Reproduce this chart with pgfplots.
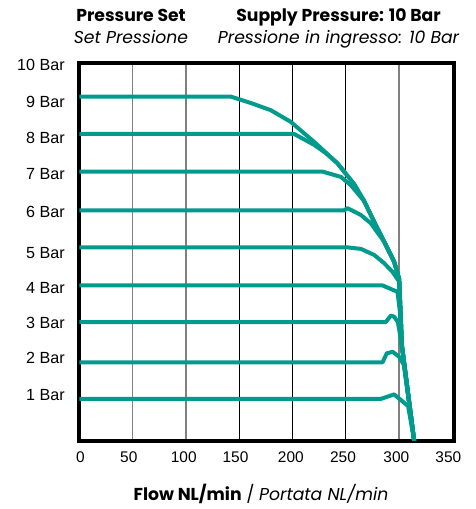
\documentclass[border=0pt]{standalone}
\usepackage{fontspec}
\setmainfont{Liberation Sans}
\newfontfamily\hfont{Poppins}
\usepackage{pgfplots}
\pgfplotsset{compat=1.18}
\definecolor{teal1}{RGB}{0,155,140}
\tikzset{curve/.style={teal1, line width=4bp, line join=round, line cap=butt, mark=none}}
\begin{document}
\begin{tikzpicture}
\path[use as bounding box] (-79.5bp,-68.5bp) rectangle (396.5bp,440.5bp);
\begin{axis}[
  at={(0,0)}, anchor=south west,
  scale only axis, width=374.5bp, height=377.5bp,
  xmin=0, xmax=351.6, ymin=-0.093, ymax=9.92,
  axis line style={line width=4bp, black},
  tick style={draw=none},
  xtick={50,100,300}, xticklabels={,,},
  minor xtick={150,200,250},
  xmajorgrids, xminorgrids,
  major grid style={gray, line width=1.2bp},
  minor grid style={black, line width=0.9bp},
  extra x ticks={0.9,46.3,97.9,146.5,198.4,247.4,297.5,346.3},
  extra x tick labels={0,50,100,150,200,250,300,350},
  extra x tick style={xmajorgrids=false, xticklabel style={anchor=north, inner sep=0pt, yshift=-11bp, font=\fontsize{15.5}{18}\selectfont}},
  ytick={1.11,2.09,3.03,3.96,4.89,5.97,6.98,7.93,8.89,9.87},
  yticklabels={1 Bar,2 Bar,3 Bar,4 Bar,5 Bar,6 Bar,7 Bar,8 Bar,9 Bar,10 Bar},
  yticklabel style={anchor=east, inner sep=0pt, xshift=-14.5bp, font=\fontsize{16.2}{18}\selectfont},
]
% 9 bar
\addplot[curve] coordinates {(0,9.03)(141.9,9.03)(160.7,8.86)(179.5,8.67)(198.3,8.36)(220.2,7.83)(242.2,7.26)(257.8,6.71)(267.2,6.26)(276.6,5.71)(286.0,5.18)(295.4,4.65)(300.1,4.19)(301.7,3.10)(302.6,2.44)(314.2,-0.10)};
% 8 bar
\addplot[curve] coordinates {(0,8.04)(201.4,8.04)(220.2,7.75)(231.2,7.53)(242.2,7.26)(257.8,6.71)(267.2,6.26)(276.6,5.71)(286.0,5.18)(295.4,4.65)(300.1,4.19)(301.7,3.10)(302.6,2.44)(314.2,-0.10)};
% 7 bar
\addplot[curve] coordinates {(0,7.04)(228.1,7.04)(245.3,6.90)(254.7,6.68)(267.2,6.26)(276.6,5.71)(286.0,5.18)(295.4,4.65)(300.1,4.19)(301.7,3.10)(302.6,2.44)(314.2,-0.10)};
% 6 bar
\addplot[curve] coordinates {(0,6.01)(248.4,6.01)(251.6,6.07)(264.1,5.89)(273.5,5.67)(286.0,5.18)(295.4,4.65)(300.1,4.19)(301.7,3.10)(302.6,2.44)(314.2,-0.10)};
% 5 bar
\addplot[curve] coordinates {(0,5.03)(251.6,5.03)(264.1,4.99)(276.6,4.83)(286.0,4.61)(293.9,4.38)(300.1,4.12)(301.7,3.10)(302.6,2.44)(314.2,-0.10)};
% 4 bar
\addplot[curve] coordinates {(0,4.02)(284.5,4.02)(298.6,3.85)(301.7,3.10)(302.6,2.44)(314.2,-0.10)};
% 3 bar
\addplot[curve] coordinates {(0,3.05)(287.6,3.05)(292.3,3.22)(295.4,3.19)(298.9,3.05)(302.6,2.44)(314.2,-0.10)};
% 2 bar
\addplot[curve] coordinates {(0,1.98)(284.5,1.98)(288.5,2.22)(293.9,2.26)(300.1,2.13)(304.5,1.91)(314.2,-0.10)};
% 1 bar
\addplot[curve] coordinates {(0,1.01)(282.9,1.01)(295.4,1.13)(308.5,0.82)(314.2,-0.10)};
\end{axis}
\node[anchor=base, inner sep=0pt] at (51.5bp,418.8bp) {\hfont\bfseries\fontsize{17.3}{20}\selectfont Pressure Set};
\node[anchor=base, inner sep=0pt] at (51.5bp,397.2bp) {\hfont\itshape\fontsize{17.3}{20}\selectfont Set Pressione};
\node[anchor=base, inner sep=0pt] at (259bp,418.8bp) {\hfont\bfseries\fontsize{17.3}{20}\selectfont Supply Pressure: 10 Bar};
\node[anchor=base, inner sep=0pt] at (259bp,397.2bp) {\hfont\itshape\fontsize{17.3}{20}\selectfont Pressione in ingresso: 10 Bar};
\node[anchor=base, inner sep=0pt] at (181.5bp,-59.5bp) {\hfont\fontsize{17.3}{20}\selectfont{\bfseries Flow NL/min} / {\itshape Portata NL/min}};
\end{tikzpicture}
\end{document}
